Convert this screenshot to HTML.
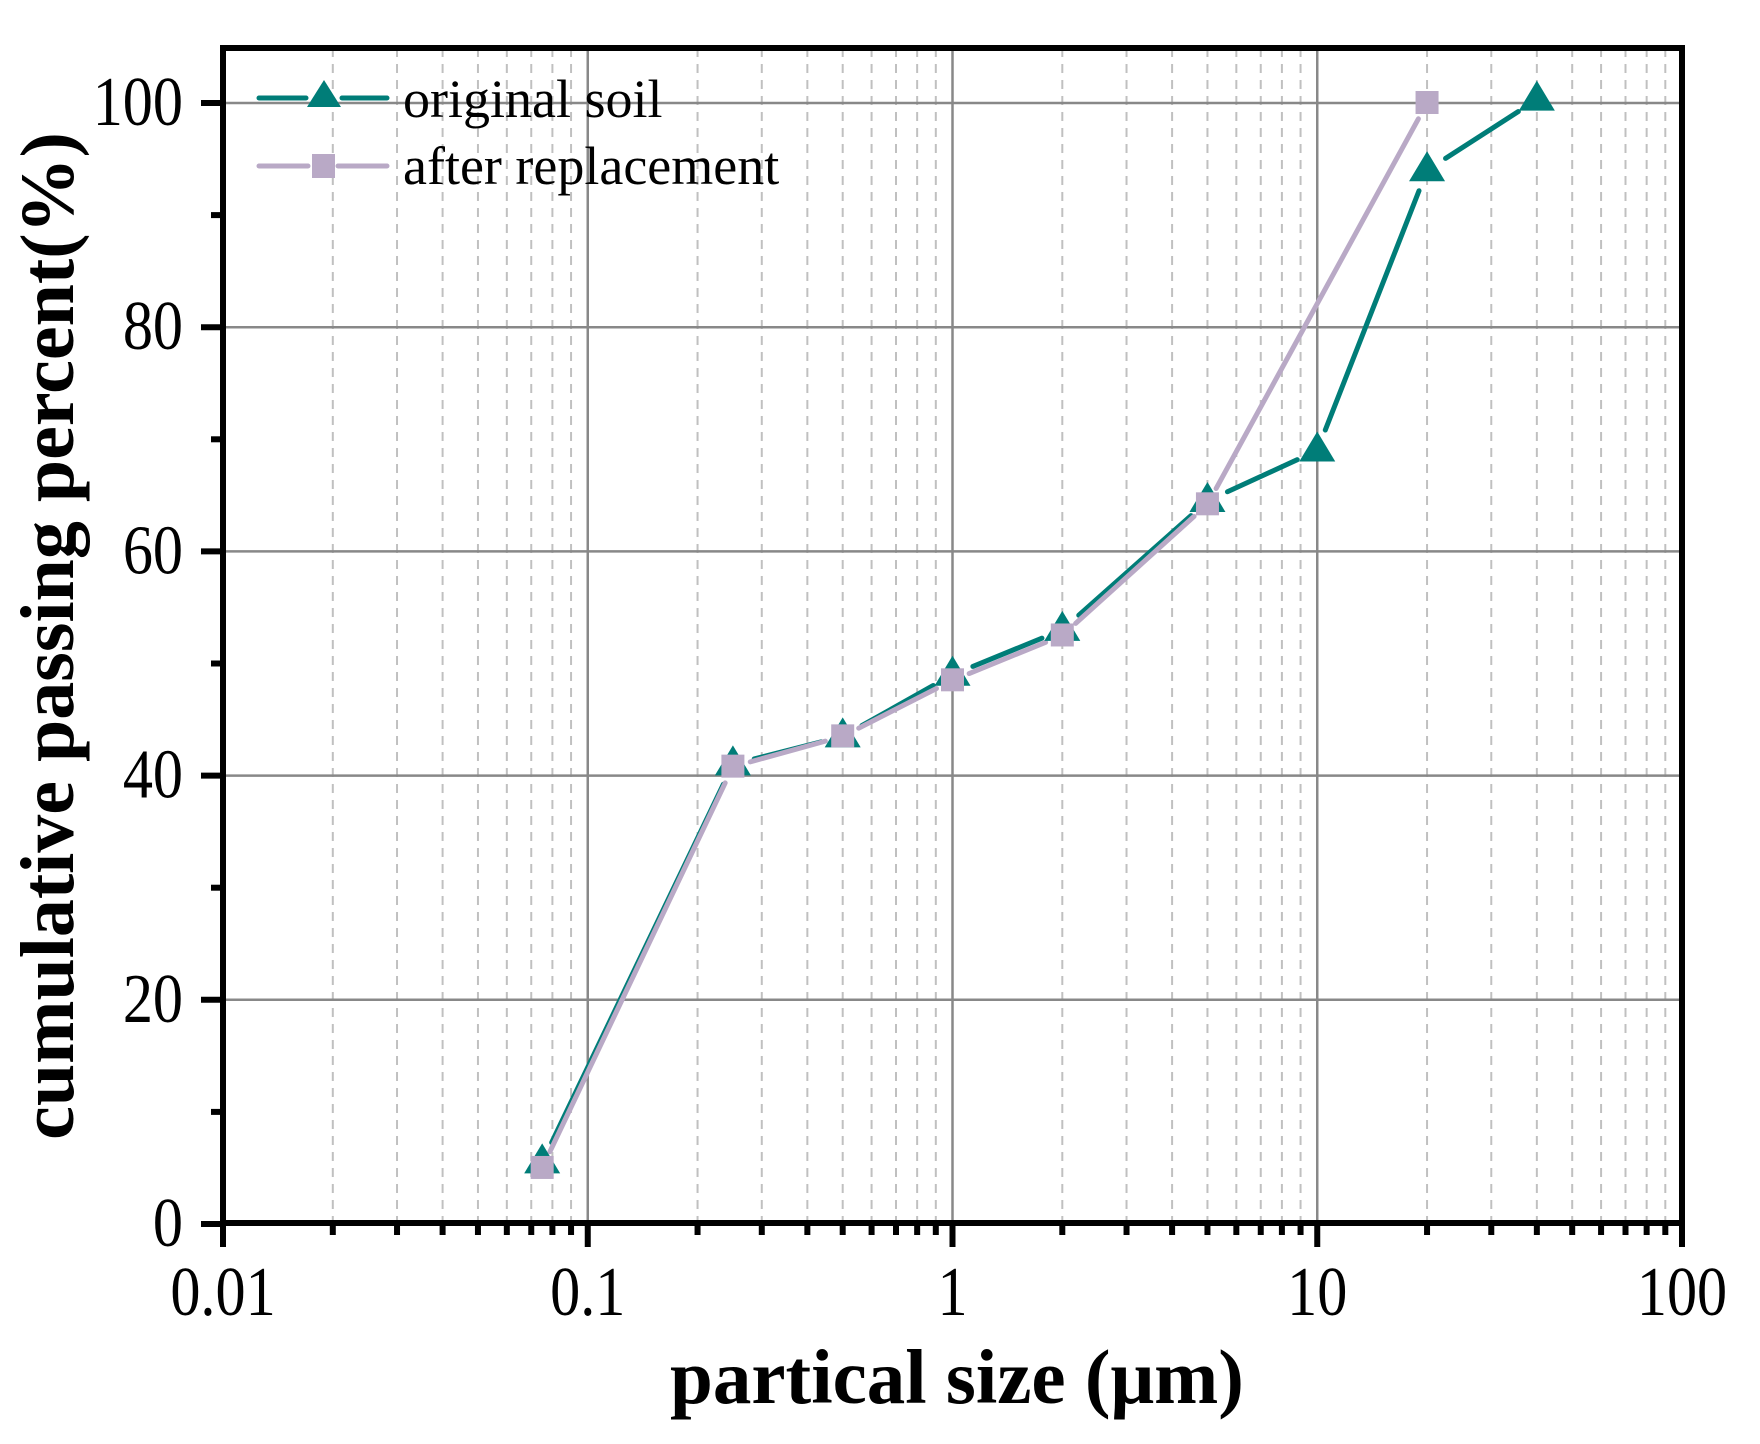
<!DOCTYPE html>
<html><head><meta charset="utf-8"><style>
html,body{margin:0;padding:0;background:#fff;}
svg{display:block;font-family:"Liberation Serif",serif;}
</style></head><body>
<svg id="chart" width="1760" height="1444" viewBox="0 0 1760 1444" xmlns="http://www.w3.org/2000/svg">
<g id="grid"></g>
<g id="series"></g>
<g id="axes"></g>
<g id="legend">
  <line x1="259" y1="98" x2="306" y2="98" stroke="#007d78" stroke-width="5" stroke-linecap="round"/>
  <line x1="342" y1="98" x2="387" y2="98" stroke="#007d78" stroke-width="5" stroke-linecap="round"/>
  <polygon points="324,80 341,107 307,107" fill="#007d78"/>
  <text x="403" y="117" font-size="54">original soil</text>
  <line x1="259" y1="166" x2="308" y2="166" stroke="#b9a9c6" stroke-width="5" stroke-linecap="round"/>
  <line x1="338" y1="166" x2="387" y2="166" stroke="#b9a9c6" stroke-width="5" stroke-linecap="round"/>
  <rect x="312" y="154" width="23" height="24" fill="#b9a9c6"/>
  <text x="403" y="184" font-size="54">after replacement</text>
</g>
<text x="957" y="1403" font-size="77" font-weight="bold" text-anchor="middle">partical size (μm)</text>
<text transform="translate(73,636) rotate(-90)" font-size="76" font-weight="bold" text-anchor="middle">cumulative passing percent(%)</text>
</svg>
<script>
const xOrig = [0.075, 0.25, 0.5, 1, 2, 5, 10, 20, 40];
const yOrig = [5.5, 41, 43.5, 49, 53, 64.5, 69, 94, 100.3];
const xAfter = [0.075, 0.25, 0.5, 1, 2, 5, 20];
const yAfter = [5, 40.8, 43.5, 48.5, 52.5, 64.2, 100];
const xTickLabels = ["0.01", "0.1", "1", "10", "100"];
const xTickValues = [0.01, 0.1, 1, 10, 100];
const yTickValues = [0, 20, 40, 60, 80, 100];

const L=223, R=1682, T=48, B=1223;
const Y0=1224, Y100=103;
const xs = v => L + (Math.log10(v) + 2) * (R - L) / 4;
const ys = v => Y0 + (Y100 - Y0) * v / 100;
const NS = "http://www.w3.org/2000/svg";
function mk(tag, attrs, parent){const e=document.createElementNS(NS,tag);for(const k in attrs)e.setAttribute(k,attrs[k]);parent.appendChild(e);return e;}
const grid=document.getElementById('grid'), axes=document.getElementById('axes'), ser=document.getElementById('series');

for(let d=-2; d<2; d++){
  for(let m=2;m<=9;m++){
    const x=xs(m*Math.pow(10,d));
    const g=mk('line',{x1:x,y1:T,x2:x,y2:B,stroke:'#c0c0c0','stroke-width':2,'stroke-dasharray':'9,7'},grid);
    
    
    const t=mk('line',{x1:x,y1:B,x2:x,y2:B+12,stroke:'#000','stroke-width':6},axes);
    
    
  }
}
xTickValues.forEach((v,i)=>{
  const x=xs(v);
  if(i>0&&i<xTickValues.length-1){
    const g=mk('line',{x1:x,y1:T,x2:x,y2:B,stroke:'#888','stroke-width':2.5},grid);
    
    
  }
  const t=mk('line',{x1:x,y1:B,x2:x,y2:B+24,stroke:'#000','stroke-width':6},axes);
  
  
  const tx=mk('text',{x:0,y:0,'font-size':70,'text-anchor':'middle',transform:`translate(${x},1315) scale(0.86,1)`},axes);
  tx.textContent=xTickLabels[i];
  
  
});
yTickValues.forEach((v,i)=>{
  const y=ys(v);
  if(v>0){
    const g=mk('line',{x1:L,y1:y,x2:R,y2:y,stroke:'#888','stroke-width':2.5},grid);
    
    
  }
  const t=mk('line',{x1:L-22,y1:y,x2:L,y2:y,stroke:'#000','stroke-width':6},axes);
  
  
  const tx=mk('text',{x:0,y:0,'font-size':70,'text-anchor':'end',transform:`translate(183,${y+22}) scale(0.86,1)`},axes);
  tx.textContent=String(v);
  
  
  if(v<100){
    const ym=ys(v+10);
    const m=mk('line',{x1:L-12,y1:ym,x2:L,y2:ym,stroke:'#000','stroke-width':6},axes);
    
    
  }
});
const fr=mk('rect',{x:L,y:T,width:R-L,height:B-T,fill:'none',stroke:'#000','stroke-width':6},axes);



function drawLine(xv,yv,color,gap,name){
  for(let i=0;i<xv.length-1;i++){
    const x1=xs(xv[i]),y1=ys(yv[i]),x2=xs(xv[i+1]),y2=ys(yv[i+1]);
    const dx=x2-x1,dy=y2-y1,len=Math.hypot(dx,dy);
    if(len<2*gap)continue;
    const ux=dx/len,uy=dy/len;
    const l=mk('line',{x1:x1+ux*gap,y1:y1+uy*gap,x2:x2-ux*gap,y2:y2-uy*gap,stroke:color,'stroke-width':5,'stroke-linecap':'round'},ser);
    
    
  }
}
drawLine(xOrig,yOrig,'#007d78',22,'original-soil');
drawLine(xAfter,yAfter,'#b9a9c6',18,'after-replacement');
xOrig.forEach((v,i)=>{
  const x=xs(v),y=ys(yOrig[i]);
  const p=mk('polygon',{points:`${x},${y-19} ${x+18},${y+11} ${x-18},${y+11}`,fill:'#007d78'},ser);
  
  
});
xAfter.forEach((v,i)=>{
  const x=xs(v),y=ys(yAfter[i]);
  const r=mk('rect',{x:x-11.5,y:y-12,width:23,height:23,fill:'#b9a9c6'},ser);
  
  
});
</script>
</body></html>
